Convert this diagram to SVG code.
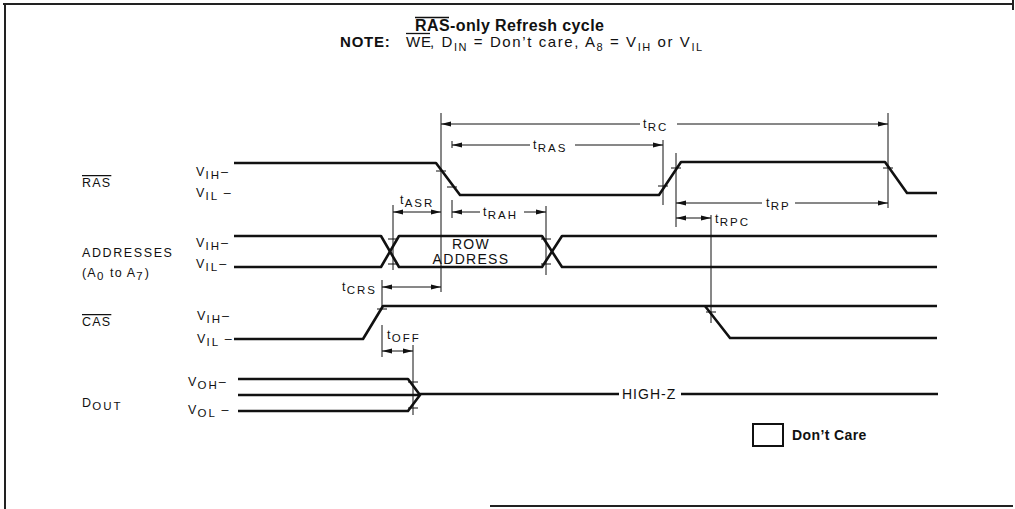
<svg xmlns="http://www.w3.org/2000/svg" width="1015" height="509" viewBox="0 0 1015 509">
<style>
text{font-family:"Liberation Sans",Arial,sans-serif;fill:#111}
.lbl{font-size:12.5px;letter-spacing:1.2px}
.sub{font-size:11.5px;letter-spacing:2px}
.wave{fill:none;stroke:#111;stroke-width:2.6;stroke-linejoin:round}
.dim{fill:none;stroke:#111;stroke-width:1}
.arr{fill:none;stroke:#111;stroke-width:1;marker-start:url(#ah);marker-end:url(#ah)}
.tick{stroke:#111;stroke-width:1}
.frame{stroke:#222;stroke-width:2;fill:none}
.bar{stroke:#111;stroke-width:1.3}
.over{text-decoration:overline}
</style>
<defs>
<marker id="ah" viewBox="0 0 10 6" refX="10" refY="3" markerWidth="10" markerHeight="6" markerUnits="userSpaceOnUse" orient="auto-start-reverse">
<path d="M0,0.5 L10,3 L0,5.5 Z" fill="#111"/>
</marker>
</defs>
<g id="frame">
<line class="frame" x1="3" y1="4" x2="1013" y2="4"/>
<line class="frame" x1="5" y1="4" x2="5" y2="509"/>
<line class="frame" x1="1013" y1="0" x2="1013" y2="10"/>
<line class="frame" x1="490" y1="506" x2="1013" y2="506"/>
</g>
<g id="title">
<text x="415" y="31" font-weight="bold" font-size="16" letter-spacing="0.4">RAS-only Refresh cycle</text>
<line class="bar" x1="415" y1="17.5" x2="449" y2="17.5"/>
<text x="340" y="46.5" font-size="15" font-weight="bold" letter-spacing="0.8">NOTE:</text>
<text x="406" y="46.5" font-size="15" letter-spacing="0.8">WE</text>
<line class="bar" x1="406" y1="33.5" x2="430" y2="33.5"/>
<text x="430" y="46.5" font-size="15" letter-spacing="0.8" textLength="273" lengthAdjust="spacing">, D<tspan dy="4" font-size="11">IN</tspan><tspan dy="-4"> = Don’t care, A</tspan><tspan dy="4" font-size="11">8</tspan><tspan dy="-4"> = V</tspan><tspan dy="4" font-size="11">IH</tspan><tspan dy="-4"> or V</tspan><tspan dy="4" font-size="11">IL</tspan></text>
</g>
<g id="signal-labels" class="lbl">
<text x="82" y="187" class="over">RAS</text>
<text x="82" y="257" letter-spacing="1.6">ADDRESSES</text>
<text x="82" y="277">(A<tspan dy="3" class="sub">0</tspan><tspan dy="-3"> to A</tspan><tspan dy="3" class="sub">7</tspan><tspan dy="-3">)</tspan></text>
<text x="82" y="326" class="over">CAS</text>
<text x="82" y="407">D<tspan dy="3" class="sub">OUT</tspan></text>
</g>
<g id="level-labels" class="lbl">
<text x="196" y="176">V<tspan dy="3" class="sub">IH</tspan><tspan dy="-3">–</tspan></text>
<text x="196" y="197">V<tspan dy="3" class="sub">IL</tspan><tspan dy="-3"> –</tspan></text>
<text x="196" y="247">V<tspan dy="3" class="sub">IH</tspan><tspan dy="-3">–</tspan></text>
<text x="196" y="268">V<tspan dy="3" class="sub">IL</tspan><tspan dy="-3">–</tspan></text>
<text x="197" y="320">V<tspan dy="3" class="sub">IH</tspan><tspan dy="-3">–</tspan></text>
<text x="197" y="343">V<tspan dy="3" class="sub">IL</tspan><tspan dy="-3"> –</tspan></text>
<text x="188" y="386">V<tspan dy="3" class="sub">OH</tspan><tspan dy="-3">–</tspan></text>
<text x="188" y="414">V<tspan dy="3" class="sub">OL</tspan><tspan dy="-3"> –</tspan></text>
</g>
<g id="ras-wave">
<path class="wave" d="M234,163 L436,163 L460,195 L659,195 L681,162 L885,162 L907,193 L937,193"/>
</g>
<g id="address-wave">
<path class="wave" d="M234,236 L381,236 L399,267 L542,267 L562,236 L937,236"/>
<path class="wave" d="M234,267 L381,267 L399,236 L542,236 L562,267 L937,267"/>
<text x="471" y="249" text-anchor="middle" font-size="14" letter-spacing="1.3">ROW</text>
<text x="471" y="264" text-anchor="middle" font-size="14" letter-spacing="1.3">ADDRESS</text>
</g>
<g id="cas-wave">
<path class="wave" d="M234,339 L363,339 L383,306 L937,306"/>
<path class="wave" d="M705,306 L730,338 L937,338"/>
</g>
<g id="dout-wave">
<path class="wave" d="M238,379 L408,379 L420,395 L408,411 L238,411"/>
<path class="wave" d="M238,395 L420,395"/>
<path class="wave" d="M420,394 L619,394"/>
<path class="wave" d="M681,394 L938,394"/>
<text x="622" y="399" font-size="14" letter-spacing="1">HIGH-Z</text>
</g>
<g id="connectors">
<line class="dim" x1="441" y1="113" x2="441" y2="292"/>
<line class="dim" x1="888" y1="113" x2="888" y2="208"/>
<line class="dim" x1="663" y1="140" x2="663" y2="205"/>
<line class="dim" x1="452" y1="141" x2="452" y2="148"/>
<line class="dim" x1="452" y1="200" x2="452" y2="218"/>
<line class="dim" x1="393" y1="205" x2="393" y2="270"/>
<line class="dim" x1="546" y1="206" x2="546" y2="275"/>
<line class="dim" x1="382" y1="280" x2="382" y2="308"/>
<line class="dim" x1="382" y1="325" x2="382" y2="357"/>
<line class="dim" x1="413" y1="345" x2="413" y2="415"/>
<line class="dim" x1="676" y1="153" x2="676" y2="227"/>
<line class="dim" x1="711" y1="215" x2="711" y2="323"/>
<path class="dim" d="M441,124 L640,124" marker-start="url(#ah)"/>
<path class="dim" d="M677,124 L888,124" marker-end="url(#ah)"/>
<path class="dim" d="M452,145 L530,145" marker-start="url(#ah)"/>
<path class="dim" d="M575,145 L663,145" marker-end="url(#ah)"/>
<path class="arr" d="M393,212 L441,212"/>
<path class="dim" d="M452,212 L480,212" marker-start="url(#ah)"/>
<path class="dim" d="M524,212 L546,212" marker-end="url(#ah)"/>
<path class="arr" d="M382,287 L441,287"/>
<path class="arr" d="M382,351 L413,351"/>
<path class="dim" d="M676,203 L762,203" marker-start="url(#ah)"/>
<path class="dim" d="M795,203 L888,203" marker-end="url(#ah)"/>
<path class="arr" d="M676,218 L711,218"/>
</g>
<g id="ticks">
<line class="tick" x1="436" y1="171" x2="446" y2="171"/>
<line class="tick" x1="447" y1="187" x2="457" y2="187"/>
<line class="tick" x1="658" y1="186" x2="668" y2="186"/>
<line class="tick" x1="671" y1="168" x2="681" y2="168"/>
<line class="tick" x1="883" y1="168" x2="893" y2="168"/>
<line class="tick" x1="388" y1="239" x2="398" y2="239"/>
<line class="tick" x1="388" y1="264" x2="398" y2="264"/>
<line class="tick" x1="541" y1="239" x2="551" y2="239"/>
<line class="tick" x1="541" y1="264" x2="551" y2="264"/>
<line class="tick" x1="377" y1="309" x2="387" y2="309"/>
<line class="tick" x1="706" y1="312" x2="716" y2="312"/>
<line class="tick" x1="408" y1="382" x2="418" y2="382"/>
<line class="tick" x1="408" y1="408" x2="418" y2="408"/>
</g>
<g id="timing-labels" class="lbl">
<text x="643" y="128">t<tspan dy="3" class="sub">RC</tspan></text>
<text x="533" y="149">t<tspan dy="3" class="sub">RAS</tspan></text>
<text x="400" y="204">t<tspan dy="3" class="sub">ASR</tspan></text>
<text x="483" y="216">t<tspan dy="3" class="sub">RAH</tspan></text>
<text x="342" y="291">t<tspan dy="3" class="sub">CRS</tspan></text>
<text x="387" y="339">t<tspan dy="3" class="sub">OFF</tspan></text>
<text x="766" y="207">t<tspan dy="3" class="sub">RP</tspan></text>
<text x="715" y="223">t<tspan dy="3" class="sub">RPC</tspan></text>
</g>
<g id="legend">
<rect x="753" y="424" width="30" height="22" fill="none" stroke="#111" stroke-width="2"/>
<text x="792" y="440" font-weight="bold" font-size="14" letter-spacing="0.4">Don’t Care</text>
</g>
</svg>
